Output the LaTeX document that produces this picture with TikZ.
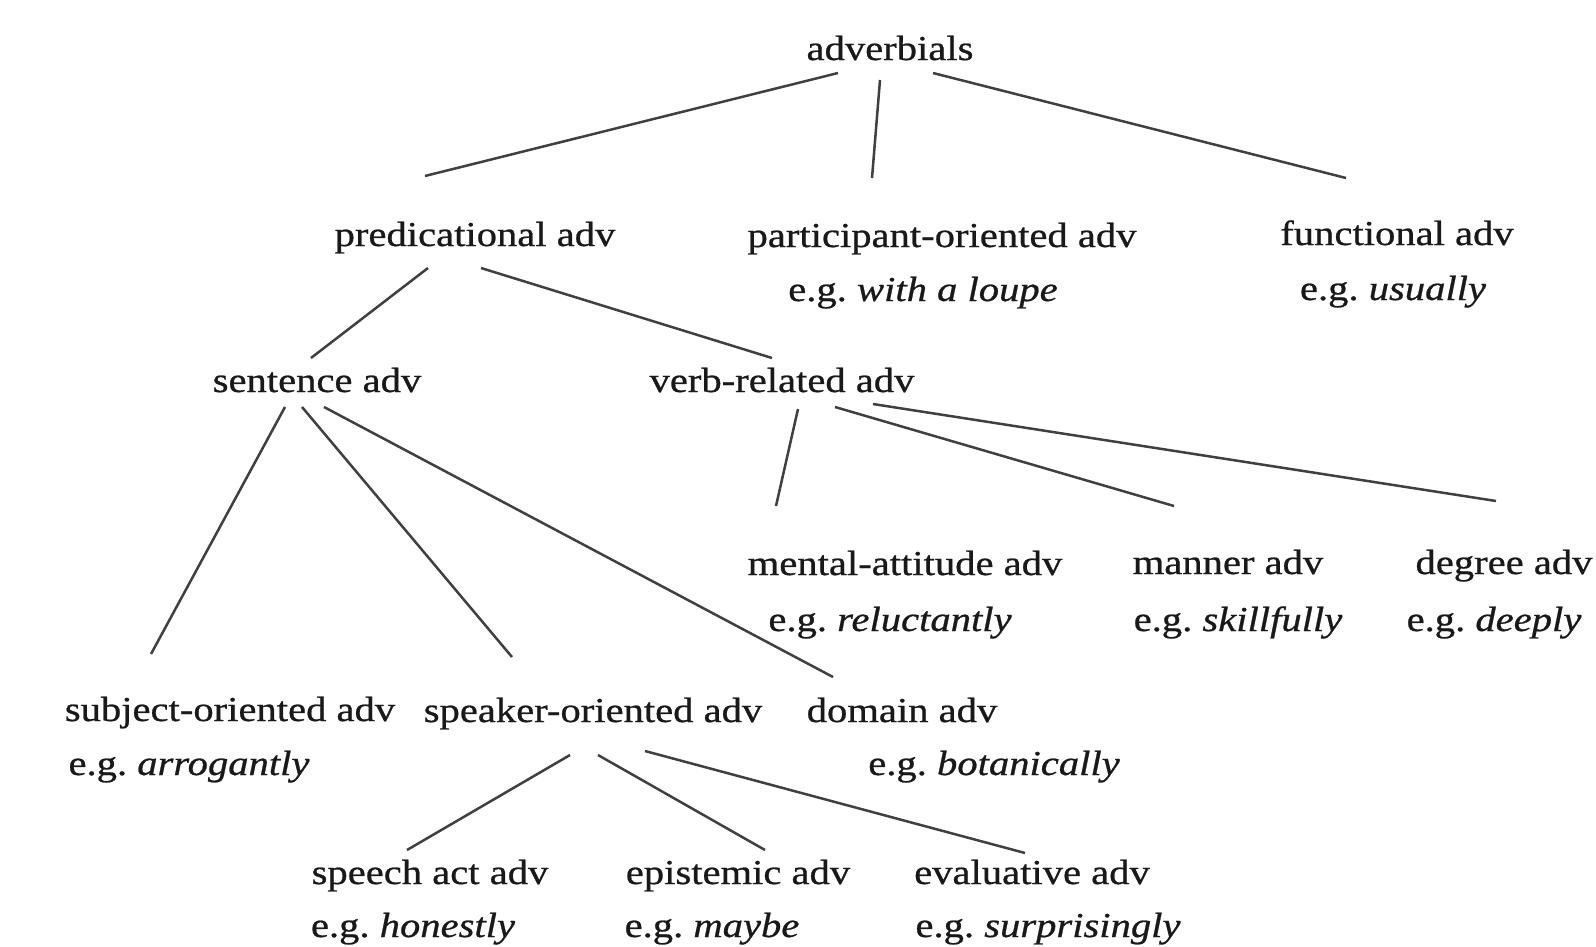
\documentclass[tikz,border=0pt]{standalone}
\usepackage{fontspec}
\setmainfont{Liberation Serif}[FakeStretch=1.16,FakeBold=0.7]
\begin{document}
\begin{tikzpicture}[x=1pt,y=-1pt,
		lbl/.style={anchor=base,inner sep=0pt,text=black!90,font=\fontsize{35}{42}\selectfont},
		br/.style={line width=2.5pt,draw=black!75}]
		\fill[white] (0,0) rectangle (1596,946);
		\useasboundingbox (0,0) rectangle (1596,946);
		% top level
		\node[lbl] (adv) at (890,60) {adverbials};
		\node[lbl] (pred) at (475,246) {predicational adv};
		\node[lbl] (ptc) at (942,247) {participant-oriented adv};
		\node[lbl] (ptcx) at (923,301) {e.g.\ \textit{with a loupe}};
		\node[lbl] (fun) at (1397,245) {functional adv};
		\node[lbl] (funx) at (1393,300) {e.g.\ \textit{usually}};
		% predicational
		\node[lbl] (sent) at (317,392) {sentence adv};
		\node[lbl] (verb) at (782,392) {verb-related adv};
		% verb-related
		\node[lbl] (ment) at (905,575) {mental-attitude adv};
		\node[lbl] (mentx) at (890,631) {e.g.\ \textit{reluctantly}};
		\node[lbl] (mann) at (1228,574) {manner adv};
		\node[lbl] (mannx) at (1238,631) {e.g.\ \textit{skillfully}};
		\node[lbl] (degr) at (1504,574) {degree adv};
		\node[lbl] (degrx) at (1494,631) {e.g.\ \textit{deeply}};
		% sentence
		\node[lbl] (subj) at (230,721) {subject-oriented adv};
		\node[lbl] (subjx) at (189,775) {e.g.\ \textit{arrogantly}};
		\node[lbl] (spkr) at (593,722) {speaker-oriented adv};
		\node[lbl] (dom) at (902,722) {domain adv};
		\node[lbl] (domx) at (994,775) {e.g.\ \textit{botanically}};
		% speaker-oriented
		\node[lbl] (spch) at (430,884) {speech act adv};
		\node[lbl] (spchx) at (413,937) {e.g.\ \textit{honestly}};
		\node[lbl] (epis) at (738,884) {epistemic adv};
		\node[lbl] (episx) at (712,937) {e.g.\ \textit{maybe}};
		\node[lbl] (eval) at (1032,884) {evaluative adv};
		\node[lbl] (evalx) at (1048,937) {e.g.\ \textit{surprisingly}};
		% branches
		\draw[br] ([shift={(-52,13)}]adv.base) -- ([shift={(-50,-70)}]pred.base);
		\draw[br] ([shift={(-10,20)}]adv.base) -- ([shift={(-70,-69)}]ptc.base);
		\draw[br] ([shift={(43,13)}]adv.base) -- ([shift={(-51,-67)}]fun.base);
		\draw[br] ([shift={(-47,22)}]pred.base) -- ([shift={(-6,-34)}]sent.base);
		\draw[br] ([shift={(6,22)}]pred.base) -- ([shift={(-10,-34)}]verb.base);
		\draw[br] ([shift={(-32,15)}]sent.base) -- ([shift={(-79,-67)}]subj.base);
		\draw[br] ([shift={(-15,15)}]sent.base) -- ([shift={(-81,-65)}]spkr.base);
		\draw[br] ([shift={(7,15)}]sent.base) -- ([shift={(-69,-45)}]dom.base);
		\draw[br] ([shift={(16,17)}]verb.base) -- ([shift={(-129,-69)}]ment.base);
		\draw[br] ([shift={(53,15)}]verb.base) -- ([shift={(-54,-68)}]mann.base);
		\draw[br] ([shift={(91,12)}]verb.base) -- ([shift={(-8,-73)}]degr.base);
		\draw[br] ([shift={(-23,33)}]spkr.base) -- ([shift={(-23,-34)}]spch.base);
		\draw[br] ([shift={(5,33)}]spkr.base) -- ([shift={(27,-34)}]epis.base);
		\draw[br] ([shift={(52,29)}]spkr.base) -- ([shift={(-7,-31)}]eval.base);
\end{tikzpicture}
\end{document}
